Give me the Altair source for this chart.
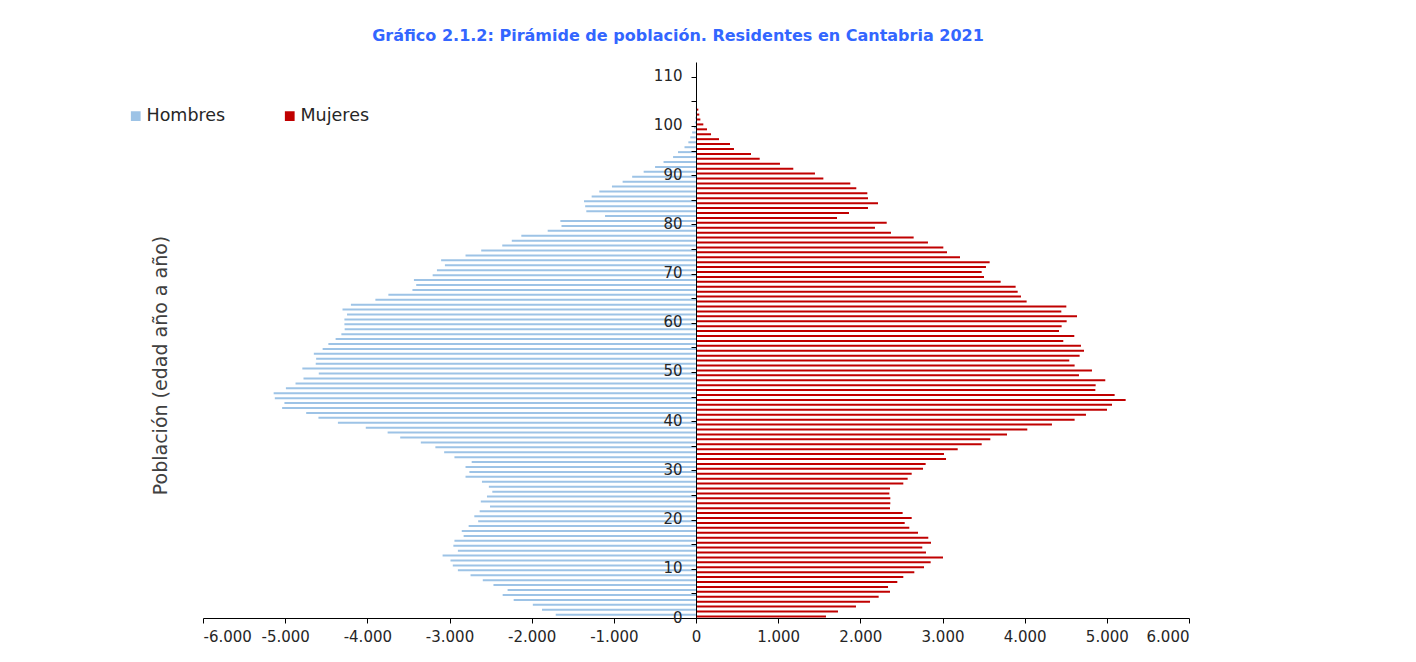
import altair as alt
import pandas as pd

ages = list(range(0, 107))

hombres = [
    1707, 1874, 1986, 2219, 2353, 2293, 2465, 2595, 2744, 2898,
    2960, 2988, 3084, 2898, 2953, 2940, 2828, 2851, 2767, 2651,
    2698, 2633, 2507, 2619, 2544, 2479, 2521, 2605, 2805, 2758,
    2805, 2730, 2940, 3065, 3172, 3349, 3600, 3753, 4019, 4358,
    4595, 4744, 5037, 5009, 5126, 5140, 4991, 4874, 4777, 4591,
    4791, 4628, 4623, 4651, 4544, 4474, 4386, 4316, 4276, 4279,
    4279, 4247, 4302, 4200, 3902, 3744, 3451, 3405, 3433, 3205,
    3153, 3056, 3102, 2805, 2614, 2358, 2242, 2126, 1805, 1637,
    1651, 1107, 1335, 1349, 1363, 1270, 1177, 1023, 893, 777,
    637, 498, 395, 279, 219, 140, 93, 70, 47, 25,
    14, 8, 4, 2, 0, 0, 0,
]

mujeres = [
    1582, 1728, 1947, 2118, 2223, 2361, 2337, 2450, 2523, 2657,
    2775, 2856, 3006, 2799, 2754, 2860, 2827, 2702, 2596, 2540,
    2625, 2515, 2361, 2365, 2365, 2353, 2361, 2523, 2576, 2625,
    2763, 2795, 3043, 3018, 3185, 3477, 3582, 3785, 4032, 4332,
    4608, 4746, 5002, 5063, 5229, 5095, 4860, 4864, 4981, 4661,
    4819, 4608, 4543, 4669, 4722, 4685, 4470, 4604, 4418, 4450,
    4511, 4637, 4446, 4507, 4024, 3955, 3915, 3890, 3708, 3505,
    3477, 3529, 3574, 3213, 3055, 3010, 2823, 2649, 2373, 2178,
    2321, 1716, 1862, 2093, 2215, 2093, 2085, 1951, 1878, 1550,
    1448, 1184, 1022, 775, 669, 462, 414, 280, 183, 134,
    89, 53, 40, 28, 12, 0, 6,
]

series = ["Hombres", "Mujeres"]
colores = ["#9DC3E6", "#C00000"]
x_ticks = list(range(-6000, 6001, 1000))
y_ticks = [k - 0.5 for k in range(0, 111, 5)]

df_h = pd.DataFrame({"edad": ages, "valor": [-v for v in hombres], "sexo": "Hombres"})
df_m = pd.DataFrame({"edad": ages, "valor": mujeres, "sexo": "Mujeres"})

FONT = "DejaVu Sans"

x_enc = alt.X(
    "valor:Q",
    scale=alt.Scale(domain=[-6000, 6000], nice=False, zero=False, padding=0),
    axis=alt.Axis(
        values=x_ticks,
        labelExpr="(datum.value < 0 ? '-' : '') + replace(format(abs(datum.value), ','), ',', '.')",
        title=None,
        grid=False,
        domainColor="#000000",
        tickColor="#000000",
        tickSize=5,
        labelFontSize=15,
        labelColor="#262626",
        labelPadding=6,
        labelFont=FONT,
    ),
)

y_enc = alt.Y(
    "edad:Q",
    scale=alt.Scale(domain=[-0.5, 112.5], nice=False, zero=False, padding=0),
    axis=alt.Axis(
        values=y_ticks,
        labelExpr="(datum.value + 0.5) % 10 == 0 ? format(datum.value + 0.5, 'd') : ''",
        offset=-493,
        grid=False,
        domainColor="#000000",
        tickColor="#000000",
        tickSize=5,
        labelFontSize=15,
        labelColor="#262626",
        labelPadding=9,
        labelOffset=-1,
        labelFont=FONT,
        title="Población (edad año a año)",
        titleX=-526,
        titleY=303,
        titleFontSize=19,
        titleFontWeight="normal",
        titleColor="#404040",
        titleFont=FONT,
        zindex=1,
    ),
)

color_enc = alt.Color(
    "sexo:N",
    scale=alt.Scale(domain=series, range=colores),
    legend=alt.Legend(
        title=None,
        orient="none",
        legendX=-76,
        legendY=45,
        direction="horizontal",
        symbolType="square",
        symbolSize=95,
        symbolStrokeWidth=0,
        labelFontSize=17.5,
        labelColor="#262626",
        labelFont=FONT,
        labelOffset=2,
        columnPadding=55,
    ),
)

base_h = alt.Chart(df_h).mark_bar(size=2, yOffset=-0.9).encode(
    x=x_enc, x2=alt.datum(0), y=y_enc, color=color_enc
)
base_m = alt.Chart(df_m).mark_bar(size=2, yOffset=0.9).encode(
    x=x_enc, x2=alt.datum(0), y=y_enc, color=color_enc
)

chart = (
    alt.layer(base_h, base_m)
    .properties(
        width=986,
        height=556,
        background="white",
        autosize=alt.AutoSizeParams(type="none"),
        padding={"left": 195, "top": 54, "right": 219, "bottom": 36},
        title=alt.TitleParams(
            "Gráfico 2.1.2: Pirámide de población. Residentes en Cantabria 2021",
            fontSize=16,
            fontWeight="bold",
            color="#3366FF",
            font=FONT,
            anchor="middle",
            frame="group",
            dx=-18,
            offset=18,
        ),
    )
    .configure_view(strokeWidth=0, stroke="transparent")
)

chart.save("out.html", embed_options={"renderer": "svg", "actions": False})
